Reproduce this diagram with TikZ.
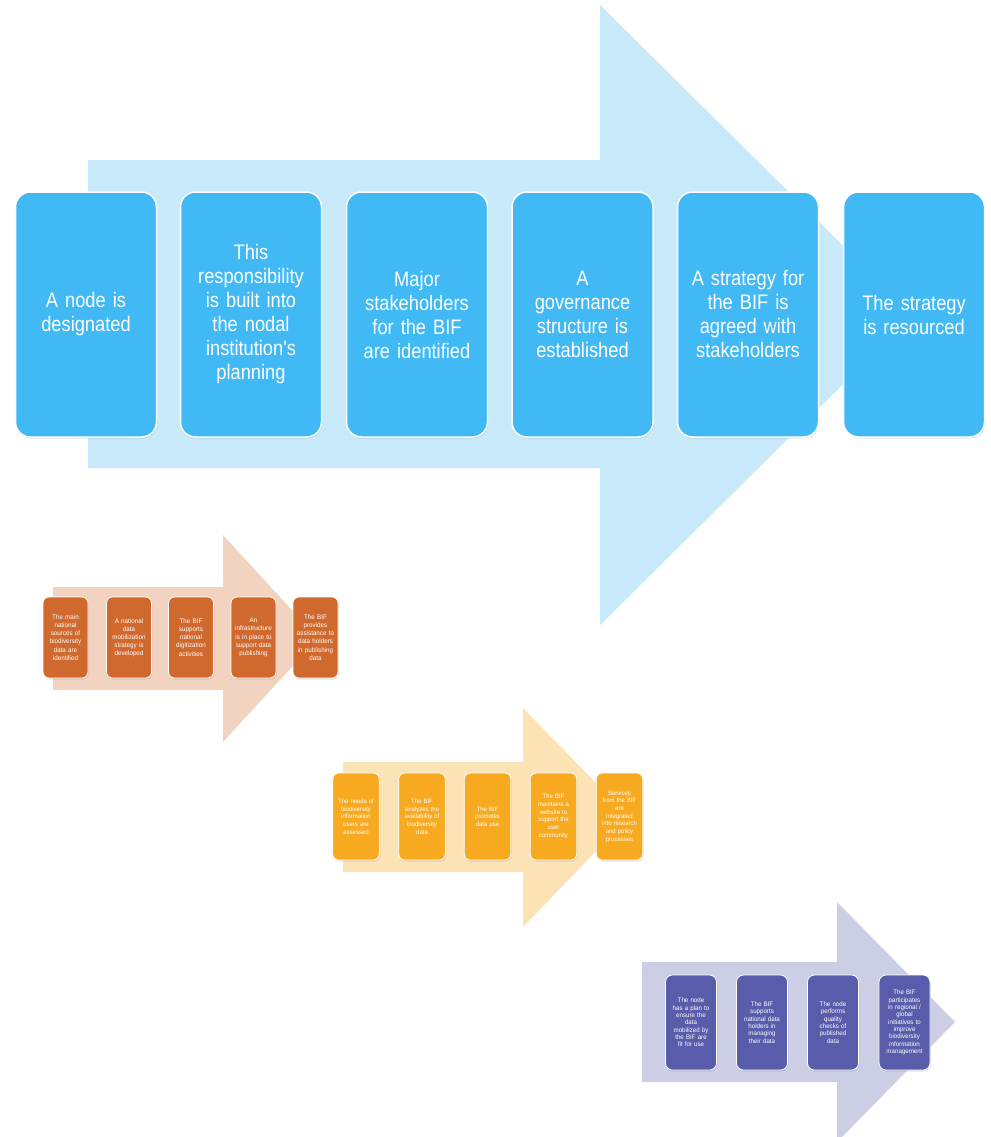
\documentclass[tikz,border=0pt]{standalone}
\usepackage{fontspec}
\setmainfont{Liberation Sans}
\newfontfamily\bigf[FakeStretch=0.87]{Liberation Sans}
\newfontfamily\smallf[FakeStretch=0.95]{Liberation Sans}
\usetikzlibrary{shadows}
\definecolor{bluebox}{HTML}{40B9F5}
\definecolor{bluearrow}{HTML}{C8E9FA}
\definecolor{orangebox}{HTML}{D0692E}
\definecolor{orangearrow}{HTML}{F2D3BF}
\definecolor{yellowbox}{HTML}{F7A920}
\definecolor{yellowarrow}{HTML}{FCE3B5}
\definecolor{purplebox}{HTML}{585CAA}
\definecolor{purplearrow}{HTML}{CBCEE4}
\tikzset{
  basebox/.style={draw=white, text=white, align=center, inner sep=0pt,
    drop shadow={opacity=0.22, shadow xshift=0.8pt, shadow yshift=-1.5pt}},
  bigbox/.style={basebox, fill=bluebox, rounded corners=15pt, line width=1.5pt,
    minimum width=141pt, minimum height=245pt, text width=132pt,
    font=\bigf\fontsize{21}{24}\selectfont},
  obox/.style={basebox, fill=orangebox, rounded corners=6pt, line width=0.8pt,
    minimum width=45pt, minimum height=81pt, text width=43pt,
    font=\smallf\fontsize{6.6}{8.1}\selectfont},
  ybox/.style={basebox, fill=yellowbox, rounded corners=6pt, line width=0.8pt,
    minimum width=46.5pt, minimum height=87pt, text width=45pt,
    font=\smallf\fontsize{6.3}{7.7}\selectfont},
  pbox/.style={basebox, fill=purplebox, rounded corners=7pt, line width=0.8pt,
    minimum width=51pt, minimum height=95pt, text width=49pt,
    font=\smallf\fontsize{6.5}{7.3}\selectfont},
}
\begin{document}
\begin{tikzpicture}[x=1pt,y=-1pt]
\useasboundingbox (0,0) rectangle (990,1137);
\clip (0,0) rectangle (990,1137);
\fill[white] (0,0) rectangle (990,1137);
% background arrows
\fill[bluearrow] (88,160) -- (600,160) -- (600,5) -- (913,315) -- (600,625) -- (600,468) -- (88,468) -- cycle;
\fill[orangearrow] (53,587) -- (223,587) -- (223,535) -- (318,638.5) -- (223,742) -- (223,690) -- (53,690) -- cycle;
\fill[yellowarrow] (343,762) -- (523,762) -- (523,708) -- (629,817) -- (523,927) -- (523,872) -- (343,872) -- cycle;
\fill[purplearrow] (642,962) -- (837,962) -- (837,902) -- (955,1022) -- (837,1142) -- (837,1082) -- (642,1082) -- cycle;
% big boxes
\node[bigbox] (b1) at (86,314.5) {A node is\\designated};
\node[bigbox] (b2) at (251,314.5) {This\\responsibility\\is built into\\the nodal\\institution's\\planning};
\node[bigbox] (b3) at (417,314.5) {Major\\stakeholders\\for the BIF\\are identified};
\node[bigbox] (b4) at (582.5,314.5) {A\\governance\\structure is\\established};
\node[bigbox] (b5) at (748,314.5) {A strategy for\\the BIF is\\agreed with\\stakeholders};
\node[bigbox] (b6) at (914,314.5) {The strategy\\is resourced};
% orange boxes
\node[obox] (o1) at (65.5,637.5) {The main\\national\\sources of\\biodiversity\\data are\\identified};
\node[obox] (o2) at (129,637.5) {A national\\data\\mobilization\\strategy is\\developed};
\node[obox] (o3) at (191,637.5) {The BIF\\supports\\national\\digitization\\activities};
\node[obox] (o4) at (253.5,637.5) {An\\infrastructure\\is in place to\\support data\\publishing};
\node[obox] (o5) at (315.5,637.5) {The BIF\\provides\\assistance to\\data holders\\in publishing\\data};
% yellow boxes
\node[ybox] (y1) at (356,816.5) {The needs of\\biodiversity\\information\\users are\\assessed};
\node[ybox] (y2) at (422,816.5) {The BIF\\analyzes the\\availability of\\biodiversity\\data};
\node[ybox] (y3) at (487.5,816.5) {The BIF\\promotes\\data use};
\node[ybox] (y4) at (553.5,816.5) {The BIF\\maintains a\\website to\\support the\\user\\community};
\node[ybox] (y5) at (619.5,816.5) {Services\\from the BIF\\are\\integrated\\into research\\and policy\\processes};
% purple boxes
\node[pbox] (p1) at (691,1022.5) {The node\\has a plan to\\ensure the\\data\\mobilized by\\the BIF are\\fit for use};
\node[pbox] (p2) at (762,1022.5) {The BIF\\supports\\national data\\holders in\\managing\\their data};
\node[pbox] (p3) at (833,1022.5) {The node\\performs\\quality\\checks of\\published\\data};
\node[pbox] (p4) at (904.5,1022.5) {The BIF\\participates\\in regional /\\global\\initiatives to\\improve\\biodiversity\\information\\management};
\end{tikzpicture}
\end{document}
